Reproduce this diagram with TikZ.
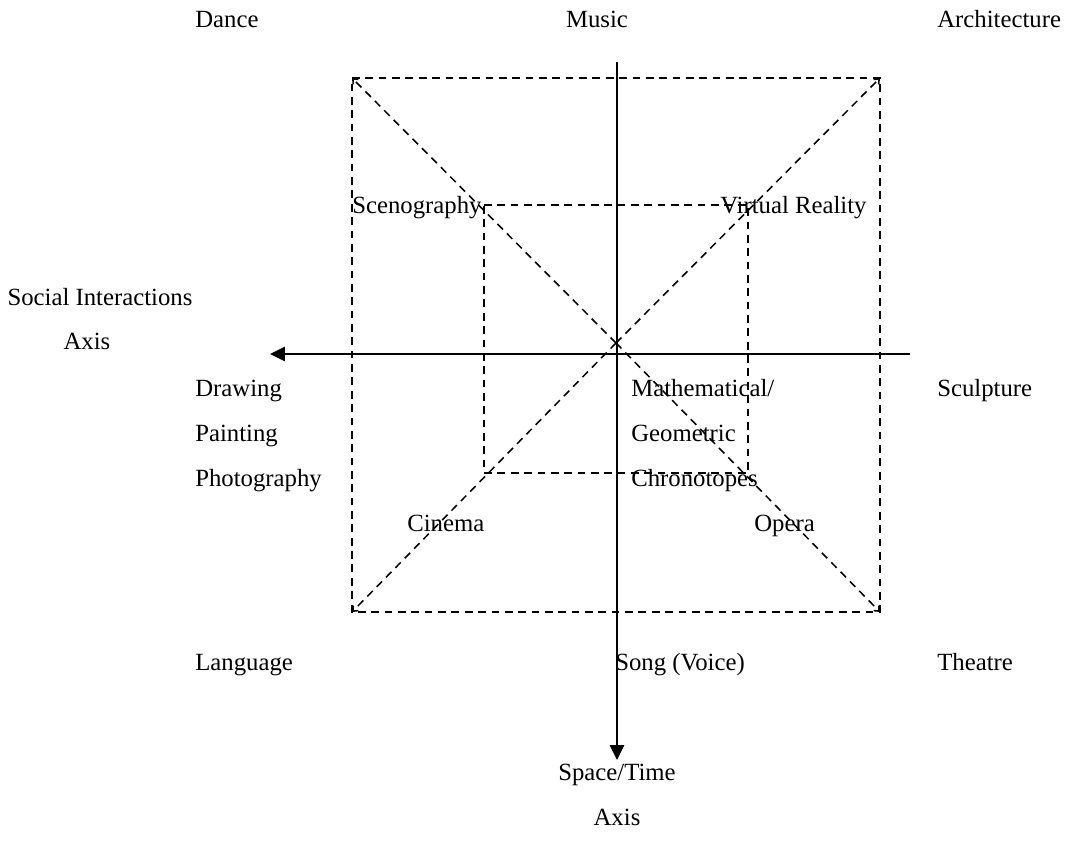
\documentclass[tikz,border=0pt]{standalone}
\usepackage{fontspec}
\setmainfont{Liberation Serif}
\usetikzlibrary{arrows.meta}

\begin{document}
\begin{tikzpicture}[
        x={(0.025cm,0)},
        y={(0,-0.025cm)},
        lbl/.style={inner sep=0pt,anchor=base west,font=\fontsize{17.6}{20}\selectfont},
        clbl/.style={lbl,anchor=base},
        axis/.style={line width=1.4pt,-{Triangle[length=10.5pt,width=10pt]}},
        guide/.style={line width=1.1pt,dash pattern=on 5.5pt off 4pt},
        diag/.style={guide,-{Straight Barb[length=3pt,width=5pt]}}
    ]
        \useasboundingbox (0,0) rectangle (1072,857);
        % corners of the two squares
        \coordinate (tl) at (352,78);
        \coordinate (tr) at (880,78);
        \coordinate (br) at (880,612);
        \coordinate (bl) at (352,612);
        \coordinate (itl) at (484,205);
        \coordinate (itr) at (748,205);
        \coordinate (ibr) at (748,473);
        \coordinate (ibl) at (484,473);
        \coordinate (mid) at (616,343);
        % draw dashed squares
        \draw[guide] (tl) -- (tr) -- (br) -- (bl) -- cycle;
        \draw[guide] (itl) -- (itr) -- (ibr) -- (ibl) -- cycle;
        % draw diagonals
        \foreach \c in {tl,tr,br,bl}
            \draw[diag] (mid) -- (\c);
        % draw axes
        \coordinate (vtop) at (617,62);
        \coordinate (vbot) at (617,760);
        \coordinate (hright) at (910,354);
        \coordinate (hleft) at (270,354);
        \draw[axis] (vtop) -- (vbot);
        \draw[axis] (hright) -- (hleft);
        % labels round the outside
        \node[lbl] (dance) at (195,27) {Dance};
        \node[clbl] (music) at (597,27) {Music};
        \node[lbl] (archi) at (937,27) {Architecture};
        \node[clbl] (social) at (100,305) {Social Interactions};
        \node[clbl] (saxis) at (87,349) {Axis};
        \node[lbl] (drawing) at (195,396) {Drawing};
        \node[lbl] (painting) at (195,441) {Painting};
        \node[lbl] (photo) at (195,486) {Photography};
        \node[lbl] (sculpt) at (937,396) {Sculpture};
        \node[lbl] (lang) at (195,670) {Language};
        \node[lbl] (song) at (615,670) {Song (Voice)};
        \node[lbl] (theatre) at (937,670) {Theatre};
        \node[clbl] (spacetime) at (617,780) {Space/Time};
        \node[clbl] (taxis) at (617,825) {Axis};
        % labels inside
        \node[lbl] (sceno) at (352,213) {Scenography};
        \node[lbl] (virtual) at (720,213) {Virtual Reality};
        \node[lbl] (math) at (631,396) {Mathematical/};
        \node[lbl] (geom) at (631,441) {Geometric};
        \node[lbl] (chrono) at (631,486) {Chronotopes};
        \node[lbl] (cinema) at (407,531) {Cinema};
        \node[lbl] (opera) at (754,531) {Opera};
\end{tikzpicture}
\end{document}
